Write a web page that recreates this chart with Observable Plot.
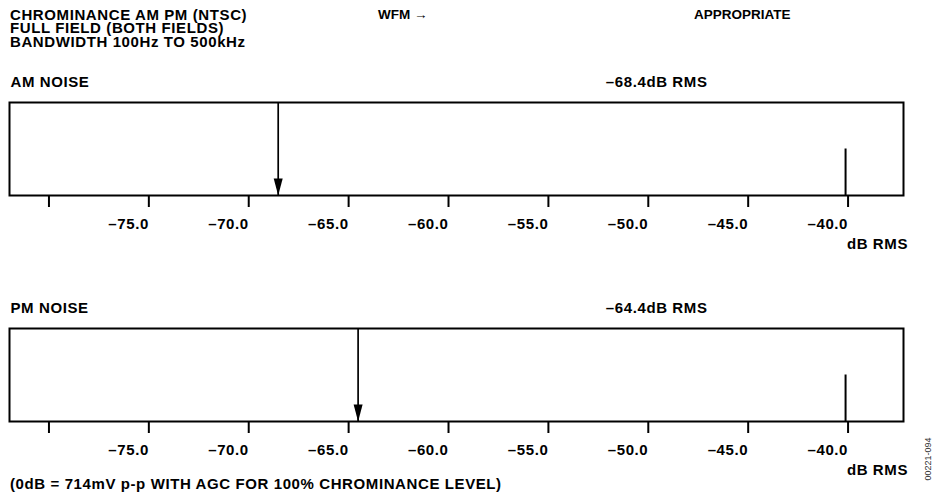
<!DOCTYPE html>
<html>
<head>
<meta charset="utf-8">
<script src="https://cdn.jsdelivr.net/npm/d3@7"></script>
<script src="https://cdn.jsdelivr.net/npm/@observablehq/plot@0.6"></script>
<style>
  html, body { margin: 0; padding: 0; background: #fff; }
  #wrap { position: relative; width: 935px; height: 496px; overflow: hidden; background: #fff;
    font-family: "Liberation Sans", Arial, Helvetica, sans-serif; color: #000; }
  .t { position: absolute; z-index: 2; white-space: nowrap; font-weight: bold; font-size: 15px; letter-spacing: 0.6px; }
  #title { left: 10px; top: 7.5px; line-height: 13.5px; }
  #wfm { left: 378px; top: 7px; line-height: 16px; font-size: 13.5px; letter-spacing: 0; }
  #wfm span { font-weight: normal; }
  #appr { left: 694px; top: 7px; line-height: 16px; font-size: 13.5px; letter-spacing: 0; }
  #foot { left: 10px; top: 476px; line-height: 16px; }
  #code { position: absolute; z-index: 2; left: 898px; top: 453px; width: 60px; text-align: center; font-size: 9px; line-height: 12px;
    color: #333; transform: rotate(-90deg); transform-origin: 30px 6px; white-space: nowrap; }
  .panel { position: absolute; left: 0; z-index: 1; }
</style>
</head>
<body>
<div id="wrap">
  <div id="title" class="t"></div>
  <div id="wfm" class="t"></div>
  <div id="appr" class="t"></div>
  <div id="foot" class="t"></div>
  <div id="code"></div>
</div>
<script>
// ---- data ----
const titleLines = ["CHROMINANCE AM PM (NTSC)", "FULL FIELD (BOTH FIELDS)", "BANDWIDTH 100Hz TO 500kHz"];
const headerMiddle = "WFM";
const headerRight = "APPROPRIATE";
const footnote = "(0dB = 714mV p-p WITH AGC FOR 100% CHROMINANCE LEVEL)";
const figureCode = "00221-094";
const panelNames = ["AM NOISE", "PM NOISE"];
const noiseDb = [-68.4, -64.4];
const noiseLabels = ["–68.4dB RMS", "–64.4dB RMS"];
const tickValues = [-80, -75, -70, -65, -60, -55, -50, -45, -40];
const tickLabels = ["", "–75.0", "–70.0", "–65.0", "–60.0", "–55.0", "–50.0", "–45.0", "–40.0"];
const referenceDb = -40;
const referenceHeight = 0.5;
const unitLabel = "dB RMS";

// ---- header / footer text ----
const wrap = document.getElementById("wrap");
document.getElementById("title").innerHTML = titleLines.join("<br>");
document.getElementById("wfm").innerHTML = headerMiddle + " <span>→</span>";
document.getElementById("appr").textContent = headerRight;
document.getElementById("foot").textContent = footnote;
document.getElementById("code").textContent = figureCode;

// arrowhead symbol: tip at the anchor point, pointing down
const arrowHead = {
  draw(context) {
    context.moveTo(0, 0);
    context.lineTo(-4.5, -17);
    context.lineTo(4.5, -17);
    context.closePath();
  }
};

const panelTops = [62, 288];

function panel(i) {
  const d = [{x: noiseDb[i], name: panelNames[i], label: noiseLabels[i]}];
  const fontStyle = {fontSize: 15, fontWeight: "bold", fill: "black"};
  return Plot.plot({
    width: 935,
    height: 193,
    marginLeft: 9,
    marginRight: 32,
    marginTop: 40,
    marginBottom: 60,
    x: {domain: [-81.85, -37.1], axis: null, label: null},
    y: {domain: [0, 1], axis: null, label: null},
    style: {
      fontFamily: "'Liberation Sans', Arial, Helvetica, sans-serif",
      fontSize: "15px",
      fontWeight: "bold",
      letterSpacing: "0.6px",
      color: "black",
      background: "transparent",
      overflow: "visible"
    },
    marks: [
      Plot.frame({stroke: "black", strokeWidth: 2}),
      Plot.ruleX([referenceDb], {y1: 0, y2: referenceHeight, stroke: "black", strokeWidth: 2}),
      Plot.ruleX(d, {x: "x", y1: 0, y2: 1, stroke: "black", strokeWidth: 1.7}),
      Plot.dot(d, {x: "x", y: 0, symbol: arrowHead, fill: "black", stroke: "none"}),
      Plot.axisX({
        ticks: tickValues,
        tickFormat: (v) => tickLabels[tickValues.indexOf(v)],
        tickSize: 12,
        tickPadding: 11,
        textAnchor: "end",
        dx: 2.5,
        stroke: "black",
        strokeWidth: 2,
        label: null,
        ...fontStyle
      }),
      Plot.text(d, {text: "name", frameAnchor: "top-left", dx: 1, dy: -20.5, textAnchor: "start", lineAnchor: "middle", ...fontStyle}),
      Plot.text(d, {text: "label", frameAnchor: "top-right", dx: -196, dy: -20, textAnchor: "end", lineAnchor: "middle", ...fontStyle}),
      Plot.text([unitLabel], {frameAnchor: "bottom-right", dx: 4.5, dy: 49, textAnchor: "end", lineAnchor: "middle", ...fontStyle})
    ]
  });
}

panelNames.forEach((_, i) => {
  const svg = panel(i);
  svg.classList.add("panel");
  svg.style.position = "absolute";
  svg.style.top = panelTops[i] + "px";
  svg.style.left = "0px";
  wrap.appendChild(svg);
});
</script>
</body>
</html>
